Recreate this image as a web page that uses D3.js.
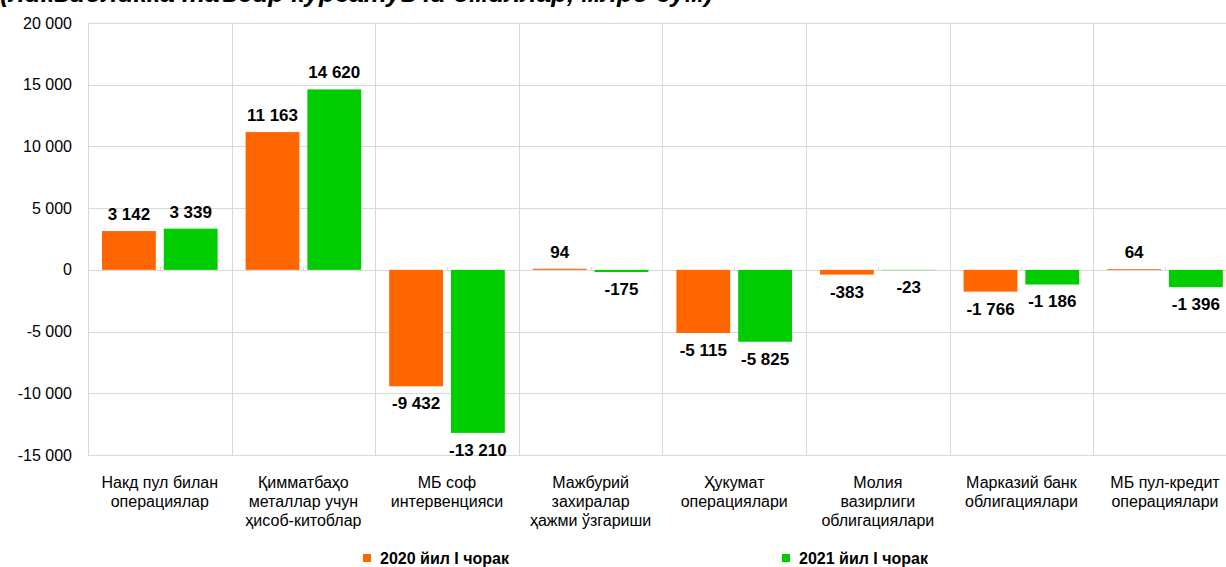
<!DOCTYPE html>
<html>
<head>
<meta charset="utf-8">
<script src="https://cdn.jsdelivr.net/npm/d3@7"></script>
<style>
  body { margin: 0; background: #fff; }
  svg { display: block; font-family: "Liberation Sans", Arial, sans-serif; }
</style>
</head>
<body>
<div id="chart"></div>
<script>
var categories = [
    ["Накд пул билан", "операциялар"],
    ["Қимматбаҳо", "металлар учун", "ҳисоб-китоблар"],
    ["МБ соф", "интервенцияси"],
    ["Мажбурий", "захиралар", "ҳажми ўзгариши"],
    ["Ҳукумат", "операциялари"],
    ["Молия", "вазирлиги", "облигациялари"],
    ["Марказий банк", "облигациялари"],
    ["МБ пул-кредит", "операциялари"]
];
var seriesNames = ["2020 йил I чорак", "2021 йил I чорак"];
var values2020 = [3142, 11163, -9432, 94, -5115, -383, -1766, 64];
var values2021 = [3339, 14620, -13210, -175, -5825, -23, -1186, -1396];
var yTicks = [20000, 15000, 10000, 5000, 0, -5000, -10000, -15000];
var colors = ["#ff6600", "#00cc00"];

var width = 1226, height = 567;
var plotLeft = 88, plotTop = 23, plotBottom = 455;
var catWidth = 143.6;

var locale = d3.formatLocale({decimal: ",", thousands: " ", grouping: [3], currency: ["", ""], minus: "-"});
var fmt = locale.format(",");

var svg = d3.select("#chart").append("svg")
    .attr("width", width)
    .attr("height", height);

// title, cut off by the top edge as in the source image
svg.append("text")
    .attr("x", 0)
    .attr("y", 2)
    .attr("font-size", "26px")
    .attr("font-weight", "bold")
    .attr("font-style", "italic")
    .attr("fill", "#000")
    .text("(ликвидликка таъсир кўрсатувчи омиллар, млрд сўм)");

var x = d3.scaleBand()
    .domain(d3.range(categories.length))
    .range([plotLeft, plotLeft + catWidth * categories.length]);

var xs = d3.scaleBand()
    .domain([0, 1])
    .range([14, catWidth - 14])
    .paddingInner(8 / 62);

var y = d3.scaleLinear()
    .domain([-15000, 20000])
    .range([plotBottom, plotTop]);

// horizontal grid
svg.append("g")
    .selectAll("line")
    .data(yTicks)
    .enter()
    .append("line")
    .attr("x1", plotLeft)
    .attr("x2", width)
    .attr("y1", function(d) { return Math.round(y(d)) + 0.5; })
    .attr("y2", function(d) { return Math.round(y(d)) + 0.5; })
    .attr("stroke", "#d9d9d9")
    .attr("stroke-width", 1);

// vertical category separators
svg.append("g")
    .selectAll("line")
    .data(d3.range(categories.length + 1))
    .enter()
    .append("line")
    .attr("x1", function(d) { return Math.round(plotLeft + d * catWidth) + 0.5; })
    .attr("x2", function(d) { return Math.round(plotLeft + d * catWidth) + 0.5; })
    .attr("y1", plotTop)
    .attr("y2", plotBottom)
    .attr("stroke", "#d9d9d9")
    .attr("stroke-width", 1);

// small ticks on the zero line at category centers
svg.append("g")
    .selectAll("line")
    .data(d3.range(categories.length))
    .enter()
    .append("line")
    .attr("x1", function(d) { return Math.round(x(d) + x.bandwidth() / 2) + 0.5; })
    .attr("x2", function(d) { return Math.round(x(d) + x.bandwidth() / 2) + 0.5; })
    .attr("y1", Math.round(y(0)) - 3)
    .attr("y2", Math.round(y(0)))
    .attr("stroke", "#d9d9d9");

// y tick labels
svg.append("g")
    .selectAll("text")
    .data(yTicks)
    .enter()
    .append("text")
    .attr("x", 72)
    .attr("y", function(d) { return y(d); })
    .attr("dy", "0.35em")
    .attr("text-anchor", "end")
    .attr("font-size", "16px")
    .attr("fill", "#000")
    .text(function(d) { return fmt(d); });

var all = [values2020, values2021];

all.forEach(function(vals, s) {
    svg.append("g")
        .selectAll("rect")
        .data(vals)
        .enter()
        .append("rect")
        .attr("x", function(d, i) { return x(i) + xs(s); })
        .attr("y", function(d) { return y(Math.max(0, d)); })
        .attr("width", xs.bandwidth())
        .attr("height", function(d) { return Math.abs(y(d) - y(0)); })
        .attr("fill", colors[s]);

    svg.append("g")
        .selectAll("text")
        .data(vals)
        .enter()
        .append("text")
        .attr("x", function(d, i) { return x(i) + xs(s) + xs.bandwidth() / 2; })
        .attr("y", function(d) { return d >= 0 ? y(d) - 17 : y(d) + 17; })
        .attr("dy", "0.35em")
        .attr("text-anchor", "middle")
        .attr("font-size", "17px")
        .attr("font-weight", "bold")
        .attr("fill", "#000")
        .text(function(d) { return fmt(d); });
});

// category labels
var cat = svg.append("g")
    .selectAll("text")
    .data(categories)
    .enter()
    .append("text")
    .attr("text-anchor", "middle")
    .attr("font-size", "16px")
    .attr("fill", "#000")
    .attr("transform", function(d, i) { return "translate(" + (x(i) + x.bandwidth() / 2) + ",488)"; });

cat.selectAll("tspan")
    .data(function(d) { return d; })
    .enter()
    .append("tspan")
    .attr("x", 0)
    .attr("y", function(d, i) { return i * 19; })
    .text(function(d) { return d; });

// legend
var legendX = [363, 782];
var legend = svg.append("g")
    .selectAll("g")
    .data(seriesNames)
    .enter()
    .append("g")
    .attr("transform", function(d, i) { return "translate(" + legendX[i] + ",558)"; });

legend.append("rect")
    .attr("x", 0)
    .attr("y", -4)
    .attr("width", 8)
    .attr("height", 8)
    .attr("fill", function(d, i) { return colors[i]; });

legend.append("text")
    .attr("x", 17)
    .attr("y", 0)
    .attr("dy", "0.35em")
    .attr("font-size", "16px")
    .attr("font-weight", "bold")
    .attr("fill", "#000")
    .text(function(d) { return d; });
</script>
</body>
</html>
